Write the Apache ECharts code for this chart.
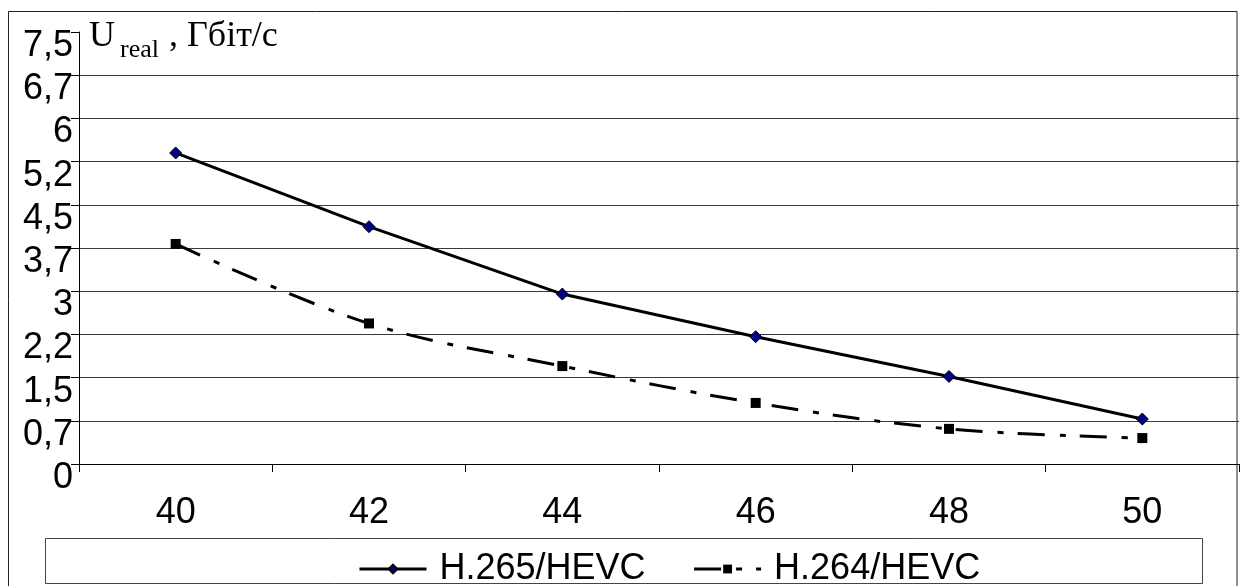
<!DOCTYPE html>
<html><head><meta charset="utf-8">
<script src="https://cdn.jsdelivr.net/npm/echarts@6/dist/echarts.min.js"></script>
<style>html,body{margin:0;padding:0;background:#fff}#c{width:1240px;height:586px}</style>
</head><body><div id="c"></div>
<script>
const categories = ['40', '42', '44', '46', '48', '50'];
const h265 = [5.40, 4.12, 2.95, 2.21, 1.52, 0.78];
const h264 = [3.82, 2.44, 1.70, 1.06, 0.61, 0.45];
const yTickLabels = ['0', '0,7', '1,5', '2,2', '3', '3,7', '4,5', '5,2', '6', '6,7', '7,5'];
const seriesNames = ['H.265/HEVC', 'H.264/HEVC'];

const chart = echarts.init(document.getElementById('c'), null, {renderer: 'canvas'});
const sans = '"Liberation Sans", Arial, sans-serif';
const serif = '"Liberation Serif", "Times New Roman", serif';

chart.setOption({
  animation: false,
  backgroundColor: '#fff',
  grid: {left: 79, right: 1, top: 32, bottom: 122, containLabel: false},
  xAxis: {
    type: 'category',
    data: categories,
    boundaryGap: true,
    axisLine: {show: true, lineStyle: {color: '#000', width: 1}},
    axisTick: {show: true, length: 8, alignWithLabel: false, lineStyle: {color: '#000'}},
    axisLabel: {fontFamily: sans, fontSize: 36, color: '#000', margin: 31},
    splitLine: {show: false}
  },
  yAxis: {
    type: 'value',
    min: 0, max: 7.5, interval: 0.75,
    axisLine: {show: true, lineStyle: {color: '#000', width: 1}},
    axisTick: {show: true, length: 8, inside: false, lineStyle: {color: '#000'}},
    axisLabel: {
      fontFamily: sans, fontSize: 36, color: '#000', margin: 6,
      verticalAlign: 'top', lineHeight: 28,
      formatter: function (v, i) { return yTickLabels[i]; }
    },
    splitLine: {show: true, showMaxLine: false, lineStyle: {color: '#3a3a3a', width: 1}}
  },
  legend: {
    show: true,
    left: 353, top: 546,
    itemWidth: 67, itemHeight: 11, itemGap: 47,
    lineStyle: {width: 3},
    textStyle: {fontFamily: sans, fontSize: 36, color: '#000', padding: [0, 0, 0, 8]},
    data: seriesNames
  },
  graphic: [
    {type: 'rect', silent: true, shape: {x: 8.5, y: 11.5, width: 1228.5, height: 600},
     style: {fill: 'none', stroke: '#222', lineWidth: 1}},
    {type: 'rect', silent: true, shape: {x: 45.5, y: 538.5, width: 1157, height: 45},
     style: {fill: 'none', stroke: '#444', lineWidth: 1}},
    {type: 'text', silent: true, x: 89, y: 37,
     style: {text: 'U', font: '36px ' + serif, fill: '#000', verticalAlign: 'middle'}},
    {type: 'text', silent: true, x: 120, y: 50,
     style: {text: 'real', font: '26px ' + serif, fill: '#000', verticalAlign: 'middle'}},
    {type: 'text', silent: true, x: 160, y: 37,
     style: {text: ' , Гбіт/с', font: '36px ' + serif, fill: '#000', verticalAlign: 'middle'}}
  ],
  series: [
    {
      name: seriesNames[0], type: 'line', data: h265,
      symbol: 'diamond', symbolSize: 12, showSymbol: true,
      lineStyle: {color: '#000', width: 3, type: 'solid'},
      itemStyle: {color: '#000080', borderColor: '#000', borderWidth: 1},
      z: 3
    },
    {
      name: seriesNames[1], type: 'line', data: h264,
      smooth: 0.35,
      symbol: 'rect', symbolSize: 10, showSymbol: true,
      lineStyle: {color: '#000', width: 3, type: [27, 15, 6, 14], cap: 'butt'},
      itemStyle: {color: '#000', borderColor: '#000', borderWidth: 0},
      z: 2
    }
  ]
});
</script></body></html>
